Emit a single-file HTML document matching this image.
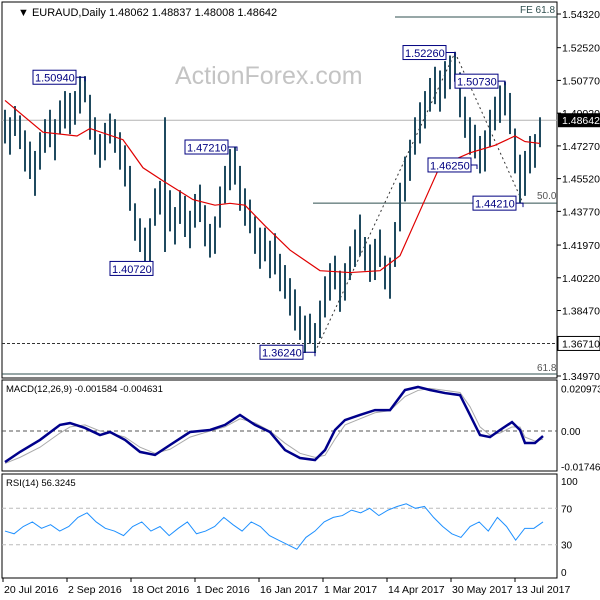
<!DOCTYPE html>
<html><head><meta charset="utf-8"><style>
body{margin:0;background:#fff;}
svg{display:block;font-family:"Liberation Sans",sans-serif;}
</style></head><body>
<svg id="c" width="600" height="600" viewBox="0 0 600 600"></svg>
<script>
// ---- data ----
const priceTicks=[1.54320,1.52520,1.50770,1.49020,1.47270,1.45520,1.43770,1.41970,1.40220,1.38470,1.36710,1.34970];
const mids=[1.483,1.478,1.486,1.480,1.470,1.465,1.458,1.470,1.478,1.482,1.476,1.488,1.492,1.490,1.493,1.500,1.503,1.488,1.478,1.470,1.475,1.482,1.478,1.470,1.462,1.450,1.432,1.425,1.418,1.422,1.440,1.445,1.452,1.438,1.430,1.440,1.435,1.428,1.438,1.442,1.430,1.422,1.425,1.440,1.452,1.460,1.462,1.450,1.440,1.435,1.425,1.418,1.420,1.412,1.415,1.405,1.400,1.392,1.385,1.378,1.372,1.375,1.370,1.380,1.392,1.400,1.405,1.395,1.400,1.410,1.418,1.425,1.415,1.410,1.412,1.418,1.405,1.402,1.420,1.440,1.455,1.465,1.478,1.485,1.492,1.500,1.505,1.502,1.508,1.512,1.515,1.500,1.488,1.478,1.475,1.468,1.470,1.482,1.490,1.495,1.498,1.490,1.470,1.455,1.458,1.468,1.470,1.480];
const halfRange=[0.009,0.010,0.008,0.009,0.011,0.010,0.012,0.010,0.009,0.010,0.011,0.009,0.010,0.011,0.009,0.010,0.007,0.012,0.010,0.009,0.010,0.008,0.009,0.010,0.011,0.012,0.010,0.009,0.011,0.012,0.010,0.009,0.036,0.011,0.010,0.009,0.011,0.010,0.009,0.010,0.011,0.009,0.010,0.011,0.010,0.011,0.010,0.012,0.010,0.009,0.010,0.011,0.009,0.010,0.011,0.010,0.009,0.010,0.011,0.009,0.010,0.008,0.008,0.010,0.011,0.010,0.009,0.011,0.010,0.009,0.010,0.011,0.009,0.010,0.011,0.010,0.009,0.011,0.012,0.013,0.012,0.011,0.010,0.011,0.010,0.009,0.010,0.011,0.010,0.009,0.008,0.012,0.011,0.010,0.009,0.010,0.011,0.010,0.009,0.010,0.009,0.011,0.012,0.013,0.012,0.010,0.009,0.008];
const maX=[5,43,77,90,123,143,163,193,215,230,245,265,290,320,350,380,400,420,440,470,495,515,525,540];
const maVals=[1.497,1.480,1.478,1.482,1.476,1.461,1.454,1.444,1.441,1.442,1.441,1.430,1.417,1.406,1.405,1.406,1.414,1.438,1.462,1.469,1.473,1.478,1.475,1.474];
const macdX=[5,20,40,60,70,85,100,110,125,140,155,170,190,210,225,240,255,270,285,300,315,325,335,345,360,375,390,405,418,430,445,460,470,480,490,500,512,520,525,535,543];
const macdVals=[-0.0153,-0.0103,-0.0044,0.0030,0.0039,0.0015,-0.0020,-0.0005,-0.0044,-0.0103,-0.0118,-0.0069,-0.0005,0.0005,0.0030,0.0079,0.0030,-0.0005,-0.0094,-0.0133,-0.0143,-0.0094,0.0005,0.0054,0.0079,0.0103,0.0103,0.0202,0.0217,0.0202,0.0187,0.0177,0.0079,-0.0020,-0.0030,0.0005,0.0044,0.0005,-0.0059,-0.0059,-0.0025];
const signalVals=[-0.016,-0.013,-0.008,-0.001,0.002,0.003,0.000,-0.001,-0.003,-0.008,-0.011,-0.009,-0.003,0.000,0.002,0.006,0.004,0.000,-0.006,-0.011,-0.013,-0.012,-0.004,0.003,0.006,0.009,0.010,0.017,0.020,0.021,0.020,0.019,0.012,0.002,-0.002,-0.001,0.002,0.002,-0.003,-0.005,-0.004];
const rsiVals=[45,42,50,55,48,52,45,50,60,65,55,48,45,40,50,55,45,50,40,48,55,42,45,50,60,52,45,55,50,40,35,30,25,38,45,55,60,62,68,65,70,62,68,72,75,70,72,60,50,42,38,50,55,45,60,50,35,48,48,55];
const dateLabels=["20 Jul 2016","2 Sep 2016","18 Oct 2016","1 Dec 2016","16 Jan 2017","1 Mar 2017","14 Apr 2017","30 May 2017","13 Jul 2017"];
const annotations=[["1.50940",1.5094,33,85],["1.47210",1.4721,185,237],["1.40720",1.4072,110,150],["1.36240",1.3624,260,315],["1.52260",1.5226,403,455],["1.50730",1.5073,455,505],["1.46250",1.4625,428,477],["1.44210",1.4421,473,523]];
// ---- helpers ----
const S=document.getElementById('c');const NS='http://www.w3.org/2000/svg';
function mk(t,a,p){const e=document.createElementNS(NS,t);for(const k in a)e.setAttribute(k,a[k]);(p||S).appendChild(e);return e;}
const yP=p=>14+(1.5432-p)*1870.8;
const yM=v=>431-v*2029;
const yR=v=>572-v*0.91;
const xBar=i=>5+i*5;
const PR=557;
// panels
let e;
e=mk('rect',{x:2,y:2,width:PR-2,height:376,fill:'none',stroke:'#000'});
e=mk('rect',{x:2,y:380,width:PR-2,height:91,fill:'none',stroke:'#000'});
e=mk('rect',{x:2,y:474,width:PR-2,height:104,fill:'none',stroke:'#000'});
// watermark
e=mk('text',{x:175,y:84,'font-size':25,fill:'#c4c4c4'});e.textContent='ActionForex.com';
// title
e=mk('text',{x:18,y:16,'font-size':11,fill:'#000'});e.textContent='▼ EURAUD,Daily  1.48062 1.48837 1.48008 1.48642';
// price axis labels
priceTicks.forEach(p=>{const y=yP(p);mk('line',{x1:PR,x2:PR+4,y1:y,y2:y,stroke:'#000'});
 e=mk('text',{x:562,y:y+4,'font-size':10.5,fill:'#000'});e.textContent=p.toFixed(5);});
// reference lines
e=mk('line',{x1:2,x2:PR,y1:yP(1.48642),y2:yP(1.48642),stroke:'#b4b4b4'});
e=mk('line',{x1:395,x2:PR,y1:yP(1.5432)+3,y2:yP(1.5432)+3,stroke:'#2f4f4f'});
e=mk('text',{x:520,y:yP(1.5432)-1,'font-size':10,fill:'#2f4f4f'});e.textContent='FE 61.8';
e=mk('line',{x1:313,x2:PR,y1:yP(1.4421),y2:yP(1.4421),stroke:'#2f4f4f'});
e=mk('text',{x:537,y:yP(1.4421)-4,'font-size':10,fill:'#555'});e.textContent='50.0';
e=mk('line',{x1:2,x2:PR,y1:yP(1.3671),y2:yP(1.3671),stroke:'#333','stroke-dasharray':'3,2'});
e=mk('line',{x1:2,x2:PR,y1:374,y2:374,stroke:'#2f4f4f'});
e=mk('text',{x:537,y:371,'font-size':10,fill:'#555'});e.textContent='61.8';
e=mk('rect',{x:PR+1,y:yP(1.3671)-7,width:42,height:14,fill:'#fff',stroke:'#000'});
e=mk('text',{x:562,y:yP(1.3671)+4,'font-size':10.5,fill:'#000'});e.textContent='1.36710';
e=mk('rect',{x:PR+1,y:yP(1.48642)-7,width:42,height:14,fill:'#000'});
e=mk('text',{x:562,y:yP(1.48642)+4,'font-size':10.5,fill:'#fff'});e.textContent='1.48642';
// diagonals
e=mk('line',{x1:315,y1:yP(1.3624),x2:455,y2:yP(1.5226),stroke:'#333','stroke-dasharray':'2,3'});
e=mk('line',{x1:455,y1:yP(1.5226),x2:523,y2:yP(1.4421),stroke:'#333','stroke-dasharray':'2,3'});
// bars
mids.forEach((m,i)=>{const h=halfRange[i];const x=xBar(i);
 e=mk('line',{x1:x,x2:x,y1:yP(m+h),y2:yP(m-h),stroke:'#1f4a5f','stroke-width':2});
 
 });
// MA
e=mk('polyline',{points:maX.map((x,i)=>x+','+yP(maVals[i])).join(' '),fill:'none',stroke:'#e00000','stroke-width':1.2});
// annotations
annotations.forEach(a=>{const y=yP(a[1]);const w=43;
 e=mk('polyline',{points:(a[2]+w)+','+y+' '+a[3]+','+y+' '+a[3]+','+(y+4),fill:'none',stroke:'#000080'});
 e=mk('rect',{x:a[2],y:y-7,width:w,height:14,fill:'#fff',stroke:'#000080'});
 
 
 e=mk('text',{x:a[2]+2,y:y+4.5,'font-size':11,fill:'#000080'});e.textContent=a[0];
 
 });
// MACD
e=mk('text',{x:6,y:392,'font-size':9.5,fill:'#000'});e.textContent='MACD(12,26,9) -0.001584 -0.004631';
e=mk('line',{x1:2,x2:PR,y1:yM(0),y2:yM(0),stroke:'#555','stroke-dasharray':'4,3'});
[[0.020973,'0.020973'],[0,'0.00'],[-0.017469,'-0.017469']].forEach(t=>{e=mk('text',{x:561,y:yM(t[0])+4,'font-size':10,fill:'#000'});e.textContent=t[1];});
e=mk('polyline',{points:macdX.map((x,i)=>x+','+yM(signalVals[i])).join(' '),fill:'none',stroke:'#aaa','stroke-width':1});
e=mk('polyline',{points:macdX.map((x,i)=>x+','+yM(macdVals[i])).join(' '),fill:'none',stroke:'#00008b','stroke-width':2.5});
// RSI
e=mk('text',{x:6,y:486,'font-size':9.5,fill:'#000'});e.textContent='RSI(14) 56.3245';
[70,30].forEach(v=>{e=mk('line',{x1:2,x2:PR,y1:yR(v),y2:yR(v),stroke:'#bbb','stroke-dasharray':'4,3'});});
[100,70,30,0].forEach(v=>{e=mk('text',{x:561,y:yR(v)+4,'font-size':10,fill:'#000'});e.textContent=v;});
const rStep=538/(rsiVals.length-1);
e=mk('polyline',{points:rsiVals.map((v,i)=>(5+i*rStep)+','+yR(v)).join(' '),fill:'none',stroke:'#1e90ff','stroke-width':1});
// dates
dateLabels.forEach((d,i)=>{const x=3+64*i;mk('line',{x1:x,x2:x,y1:578,y2:582,stroke:'#000'});
 e=mk('text',{x:x+1,y:593,'font-size':10.5,fill:'#000'});e.textContent=d;});
</script>
</body></html>
